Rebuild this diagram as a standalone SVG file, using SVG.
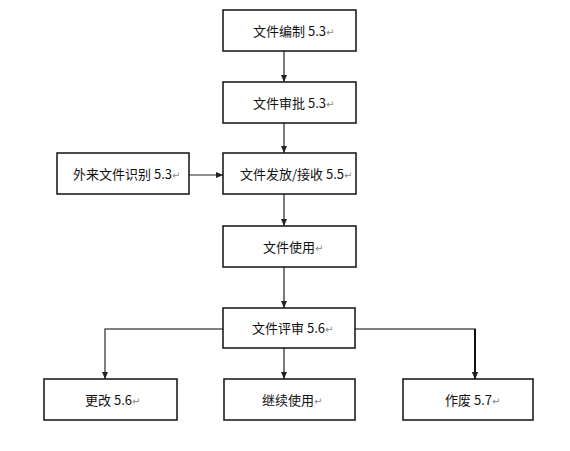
<svg xmlns="http://www.w3.org/2000/svg" width="570" height="451" viewBox="0 0 570 451">
<style>
.box{fill:#fff;stroke:#111;stroke-width:1.5}
.t{font-family:"Noto Sans CJK SC","Liberation Sans",sans-serif;font-size:13px;fill:#111}
.r{fill:#888;font-family:"DejaVu Sans",sans-serif;font-size:10px}
.c{fill:none;stroke:#222;stroke-width:1.2}
.g{fill:none;stroke:#555;stroke-width:1.5}
</style>
<defs>
<marker id="a" markerWidth="8" markerHeight="8" refX="7" refY="4" orient="auto" markerUnits="userSpaceOnUse">
<path d="M0,1 L7,4 L0,7 Z" fill="#222"/>
</marker>
</defs>
<rect width="570" height="451" fill="#fff"/>
<g id="connectors">
<line class="c" x1="284" y1="51" x2="284" y2="82" marker-end="url(#a)"/>
<line class="c" x1="284" y1="123" x2="284" y2="153" marker-end="url(#a)"/>
<line class="c" x1="189" y1="175" x2="223" y2="175" stroke-width="1.8" marker-end="url(#a)"/>
<line class="c" x1="284" y1="194" x2="284" y2="226" marker-end="url(#a)"/>
<line class="c" x1="284" y1="267" x2="284" y2="308" marker-end="url(#a)"/>
<line class="c" x1="284" y1="348" x2="284" y2="379" marker-end="url(#a)"/>
<polyline class="g" points="223,329 105,329 105,379" marker-end="url(#a)"/>
<polyline class="g" points="355,329 475,329 475,379" marker-end="url(#a)"/>
<line x1="475" y1="329" x2="475" y2="379" stroke="#111" stroke-width="2" marker-end="url(#a)"/>
</g>
<g id="n1"><rect class="box" x="223" y="10" width="133" height="41"/><text class="t" x="253" y="36">文件编制 5.3<tspan class="r">↵</tspan></text></g>
<g id="n2"><rect class="box" x="223" y="82" width="133" height="41"/><text class="t" x="253" y="108">文件审批 5.3<tspan class="r">↵</tspan></text></g>
<g id="n3"><rect class="box" x="223" y="153" width="133" height="41"/><text class="t" x="240" y="179">文件发放/接收 5.5<tspan class="r">↵</tspan></text></g>
<g id="n0"><rect class="box" x="57" y="153" width="132" height="41"/><text class="t" x="73" y="179">外来文件识别 5.3<tspan class="r">↵</tspan></text></g>
<g id="n4"><rect class="box" x="223" y="226" width="133" height="41"/><text class="t" x="263" y="252">文件使用<tspan class="r">↵</tspan></text></g>
<g id="n5"><rect class="box" x="223" y="308" width="132" height="40"/><text class="t" x="252" y="333">文件评审 5.6<tspan class="r">↵</tspan></text></g>
<g id="n6"><rect class="box" x="44" y="379" width="133" height="41"/><text class="t" x="85" y="405">更改 5.6<tspan class="r">↵</tspan></text></g>
<g id="n7"><rect class="box" x="224" y="379" width="131" height="41"/><text class="t" x="262" y="405">继续使用<tspan class="r">↵</tspan></text></g>
<g id="n8"><rect class="box" x="403" y="379" width="130" height="41"/><text class="t" x="445" y="405">作废 5.7<tspan class="r">↵</tspan></text></g>
</svg>
